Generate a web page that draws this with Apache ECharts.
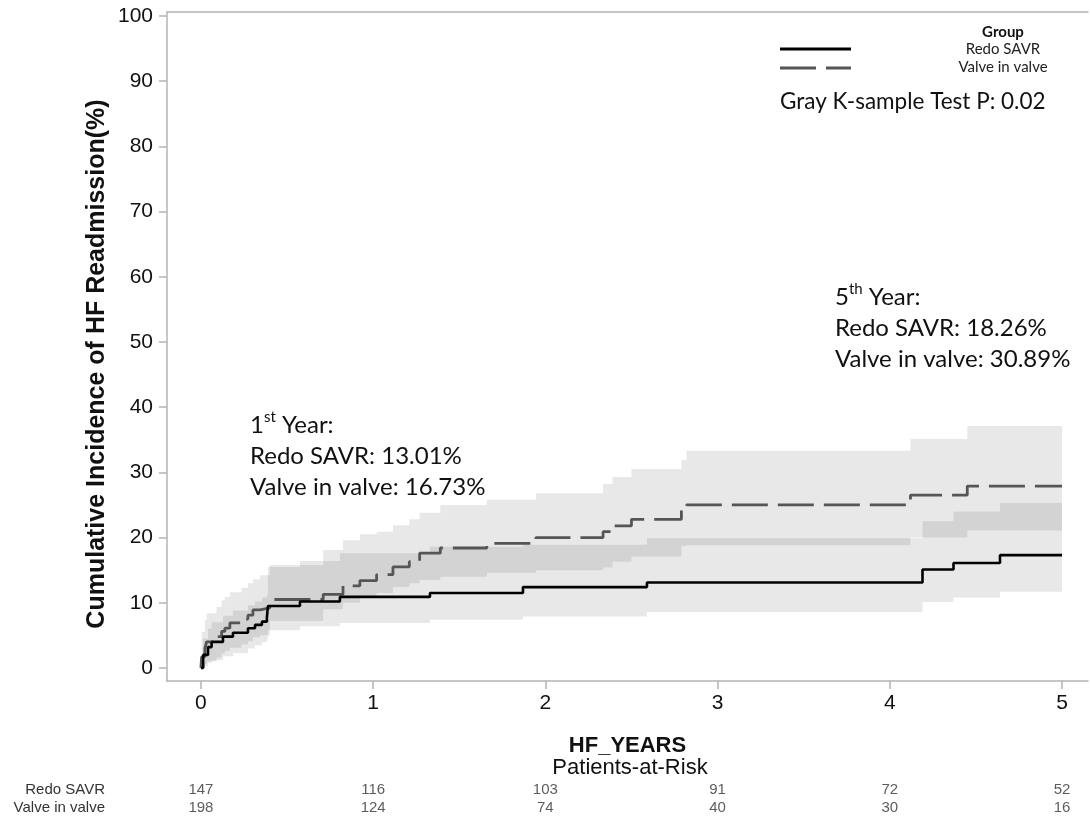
<!DOCTYPE html>
<html><head><meta charset="utf-8">
<script src="https://cdn.jsdelivr.net/npm/echarts@6/dist/echarts.min.js"></script>
<style>html,body{margin:0;padding:0;background:#fff}#c{width:1090px;height:819px}</style>
</head><body><div id="c"></div>
<script>
// ---- tick labels ----
const yearTicks = [0, 1, 2, 3, 4, 5];
const pctTicks = [0, 10, 20, 30, 40, 50, 60, 70, 80, 90, 100];
const groupNames = ['Redo SAVR', 'Valve in valve'];
const studyEnd = 5.0;

// ---- Redo SAVR: cumulative incidence (%) step function with CI ----
const redoTime = [0, 0.013, 0.041, 0.062, 0.128, 0.186, 0.273, 0.314, 0.354, 0.383, 0.389, 0.575, 0.807, 1.33, 1.87, 2.59, 4.19, 4.37, 4.64];
const redoEst  = [0, 2.0, 3.2, 4.0, 4.8, 5.4, 6.1, 6.6, 7.1, 7.7, 9.5, 10.2, 10.9, 11.5, 12.4, 13.1, 15.1, 16.1, 17.3];
const redoLow  = [0, 0.3, 0.8, 1.2, 1.8, 2.3, 3.0, 3.5, 4.0, 4.4, 5.8, 6.4, 6.9, 7.4, 7.9, 8.6, 10.1, 10.8, 11.7];
const redoHigh = [0, 4.5, 6.0, 7.0, 8.0, 8.8, 9.6, 10.2, 10.8, 11.3, 15.5, 16.4, 17.6, 18.6, 18.9, 19.9, 22.5, 24.0, 25.3];

// ---- Valve in valve ----
const vivTime = [0, 0.004, 0.023, 0.033, 0.091, 0.12, 0.139, 0.168, 0.236, 0.273, 0.302, 0.343, 0.40, 0.71, 0.825, 0.923, 1.02, 1.115, 1.21, 1.27, 1.39, 1.66, 1.945, 2.335, 2.39, 2.50, 2.79, 2.82, 4.12, 4.45];
const vivEst   = [0, 1.7, 3.0, 4.0, 4.8, 5.6, 6.1, 6.9, 7.5, 8.1, 8.9, 9.2, 10.5, 11.3, 12.6, 13.4, 14.3, 15.5, 16.3, 17.6, 18.4, 19.1, 20.0, 20.9, 21.8, 22.8, 24.2, 25.0, 26.5, 27.9];
const vivLow   = [0, 0, 0.6, 1.0, 1.6, 2.2, 2.6, 3.1, 3.6, 4.1, 4.7, 5.0, 7.2, 9.0, 10.0, 10.8, 11.5, 12.4, 13.0, 13.5, 14.0, 14.6, 15.0, 15.4, 16.3, 17.1, 18.7, 18.8, 20.0, 21.1];
const vivHigh  = [0, 5.5, 7.3, 8.4, 9.4, 10.4, 10.9, 11.6, 12.3, 13.0, 13.6, 14.2, 15.8, 18.1, 19.6, 20.5, 20.9, 21.9, 22.8, 23.8, 25.0, 25.8, 26.8, 28.2, 29.3, 30.5, 31.9, 33.3, 35.1, 37.1];

// ---- patients at risk ----
const atRiskRedo = [147, 116, 103, 91, 72, 52];
const atRiskViv  = [198, 124, 74, 40, 30, 16];

const xMin = -0.197, xMax = 5.151, yMin = -2, yMax = 100.6;
const axisGray = '#b4b4b4';
const tickFont = 'Liberation Sans, Arial, sans-serif';
const noteFont = 'Lato, Open Sans, sans-serif';

function stepData(t, v) {
  const d = t.map((x, i) => [x, v[i]]);
  d.push([studyEnd, v[v.length - 1]]);
  return d;
}
function bandRender(t, lo, hi) {
  return function (params, api) {
    const pts = [];
    for (let i = 0; i < t.length; i++) {
      const t1 = i + 1 < t.length ? t[i + 1] : studyEnd;
      pts.push(api.coord([t[i], hi[i]]), api.coord([t1, hi[i]]));
    }
    for (let i = t.length - 1; i >= 0; i--) {
      const t1 = i + 1 < t.length ? t[i + 1] : studyEnd;
      pts.push(api.coord([t1, lo[i]]), api.coord([t[i], lo[i]]));
    }
    return { type: 'polygon', shape: { points: pts }, style: { fill: 'rgba(0,0,0,0.09)' } };
  };
}

const riskData = [];
yearTicks.forEach((yr, i) => {
  riskData.push([yr, 0, atRiskRedo[i]]);
  riskData.push([yr, 1, atRiskViv[i]]);
});

const noteRich = {
  n: { font: '24px ' + noteFont, fill: '#111', lineHeight: 31 },
  s: { font: '15px ' + noteFont, fill: '#111', verticalAlign: 'top', lineHeight: 31, padding: [0, 0, 12, 0] }
};

const chart = echarts.init(document.getElementById('c'), null, { renderer: 'canvas' });
chart.setOption({
  animation: false,
  backgroundColor: '#fff',
  grid: [
    { left: 167, right: 2, top: 12, bottom: 138 },
    { left: 167, right: 2, top: 781, height: 36 }
  ],
  xAxis: [
    {
      type: 'value', gridIndex: 0, min: xMin, max: xMax,
      name: 'HF_YEARS', nameLocation: 'middle', nameGap: 54,
      nameTextStyle: { fontFamily: tickFont, fontSize: 22, fontWeight: 'bold', color: '#111' },
      axisLine: { show: true, onZero: false, lineStyle: { color: axisGray, width: 1.5 } },
      axisTick: { show: true, length: 8, customValues: yearTicks, lineStyle: { color: axisGray, width: 1.5 } },
      axisLabel: { customValues: yearTicks, fontFamily: tickFont, fontSize: 21, color: '#111', margin: 12 },
      splitLine: { show: false }
    },
    {
      type: 'value', gridIndex: 0, position: 'top', min: xMin, max: xMax,
      axisLine: { show: true, onZero: false, lineStyle: { color: axisGray, width: 1.5 } },
      axisTick: { show: false }, axisLabel: { show: false }, splitLine: { show: false }
    },
    {
      type: 'value', gridIndex: 1, min: xMin, max: xMax, show: false
    }
  ],
  yAxis: [
    {
      type: 'value', gridIndex: 0, min: yMin, max: yMax,
      axisLine: { show: true, onZero: false, lineStyle: { color: axisGray, width: 1.5 } },
      axisTick: { show: true, length: 8, customValues: pctTicks, lineStyle: { color: axisGray, width: 1.5 } },
      axisLabel: { customValues: pctTicks, fontFamily: tickFont, fontSize: 21, color: '#111', margin: 14 },
      splitLine: { show: false }
    },
    {
      type: 'category', gridIndex: 1, data: groupNames, inverse: true,
      axisLine: { show: false }, axisTick: { show: false },
      axisLabel: { interval: 0, fontFamily: tickFont, fontSize: 15, color: '#333', margin: 62 }
    }
  ],
  series: [
    {
      type: 'custom', name: 'Redo band', xAxisIndex: 0, yAxisIndex: 0, z: 1, silent: true,
      data: [[0, 0]], renderItem: bandRender(redoTime, redoLow, redoHigh)
    },
    {
      type: 'custom', name: 'ViV band', xAxisIndex: 0, yAxisIndex: 0, z: 1, silent: true,
      data: [[0, 0]], renderItem: bandRender(vivTime, vivLow, vivHigh)
    },
    {
      type: 'line', name: groupNames[0], step: 'end', symbol: 'none', z: 5,
      data: stepData(redoTime, redoEst),
      lineStyle: { color: '#000', width: 2.6 }
    },
    {
      type: 'line', name: groupNames[1], step: 'end', symbol: 'none', z: 4,
      data: stepData(vivTime, vivEst),
      lineStyle: { color: '#555', width: 2.8, type: [36, 10] }
    },
    {
      type: 'scatter', xAxisIndex: 2, yAxisIndex: 1, symbolSize: 0, silent: true,
      data: riskData,
      label: {
        show: true, position: 'inside', formatter: p => String(p.value[2]),
        fontFamily: tickFont, fontSize: 15, color: '#333'
      }
    }
  ],
  graphic: [
    { type: 'text', x: 97, y: 364, rotation: Math.PI / 2,
      style: { text: 'Cumulative Incidence of HF Readmission(%)', font: 'bold 25px ' + tickFont, fill: '#111', align: 'center', verticalAlign: 'middle' } },
    { type: 'text', x: 630, y: 768,
      style: { text: 'Patients-at-Risk', font: '22px ' + tickFont, fill: '#111', align: 'center', verticalAlign: 'middle' } },
    // legend
    { type: 'line', shape: { x1: 780, y1: 49, x2: 851, y2: 49 }, style: { stroke: '#000', lineWidth: 3 } },
    { type: 'line', shape: { x1: 780, y1: 68, x2: 851, y2: 68 }, style: { stroke: '#555', lineWidth: 3, lineDash: [36, 10] } },
    { type: 'text', x: 1003, y: 32, style: { text: 'Group', font: 'bold 15px ' + noteFont, fill: '#111', align: 'center', verticalAlign: 'middle' } },
    { type: 'text', x: 1003, y: 49, style: { text: groupNames[0], font: '15px ' + noteFont, fill: '#222', align: 'center', verticalAlign: 'middle' } },
    { type: 'text', x: 1003, y: 67, style: { text: groupNames[1], font: '15px ' + noteFont, fill: '#222', align: 'center', verticalAlign: 'middle' } },
    { type: 'text', x: 780, y: 102, style: { text: 'Gray K-sample Test P: 0.02', font: '22.5px ' + noteFont, fill: '#111', align: 'left', verticalAlign: 'middle' } },
    // 5th year note
    { type: 'text', x: 835, y: 328, style: {
        text: '{n|5}{s|th}{n| Year:}\n{n|Redo SAVR: 18.26%}\n{n|Valve in valve: 30.89%}',
        align: 'left', verticalAlign: 'middle', lineHeight: 31, rich: noteRich } },
    // 1st year note
    { type: 'text', x: 250, y: 456, style: {
        text: '{n|1}{s|st}{n| Year:}\n{n|Redo SAVR: 13.01%}\n{n|Valve in valve: 16.73%}',
        align: 'left', verticalAlign: 'middle', lineHeight: 31, rich: noteRich } }
  ]
});
</script></body></html>
